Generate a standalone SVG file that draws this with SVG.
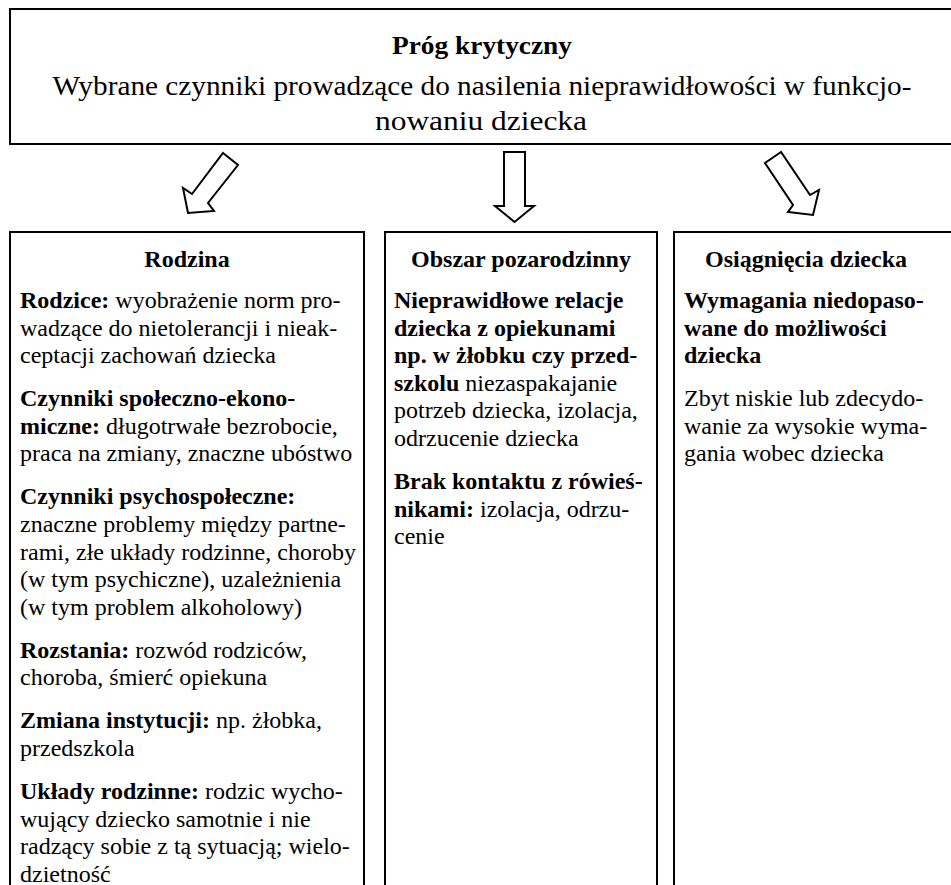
<svg xmlns="http://www.w3.org/2000/svg" width="951" height="885" viewBox="0 0 951 885" font-family="'Liberation Serif', 'Times New Roman', 'DejaVu Serif', serif">
  <style>
    .frame { fill: #ffffff; stroke: #000000; stroke-width: 2; }
    .arrow { fill: #ffffff; stroke: #000000; stroke-width: 2; stroke-linejoin: miter; }
    text { font-family: 'Liberation Serif', 'Times New Roman', 'DejaVu Serif', serif; fill: #000000; }
    .txt { font-size: 24px; }
    .b { font-weight: bold; }
    .c { text-anchor: middle; }
  </style>
  <rect x="0" y="0" width="951" height="885" fill="#ffffff"/>

  <!-- threshold box -->
  <g id="prog-krytyczny">
    <rect class="frame" x="10" y="9" width="960" height="135"/>
    <text class="b c" x="482" y="54" font-size="26" textLength="180" lengthAdjust="spacingAndGlyphs">Próg krytyczny</text>
    <text class="c" x="482" y="95" font-size="27" textLength="859" lengthAdjust="spacingAndGlyphs">Wybrane czynniki prowadzące do nasilenia nieprawidłowości w funkcjo-</text>
    <text class="c" x="481" y="130" font-size="27" textLength="212" lengthAdjust="spacingAndGlyphs">nowaniu dziecka</text>
  </g>

  <!-- block arrows -->
  <g id="connectors">
    <polygon class="arrow" points="223,153 238,165 208,203 214,211 188,213 183,188 192,194"/>
    <polygon class="arrow" points="504,152 525,152 525,206 534,206 514.5,222 495,206 504,206"/>
    <polygon class="arrow" points="781,152 765,163 793,205 788,212 813,215 819,190 810,195"/>
  </g>

  <!-- family column -->
  <g id="rodzina">
    <rect class="frame" x="10" y="232" width="354" height="670"/>
    <text class="txt b c" x="187" y="267">Rodzina</text>
    <text class="txt" x="20" y="308"><tspan class="b">Rodzice:</tspan> wyobrażenie norm pro-</text>
    <text class="txt" x="20" y="335.6">wadzące do nietolerancji i nieak-</text>
    <text class="txt" x="20" y="363.2">ceptacji zachowań dziecka</text>
    <text class="txt b" x="20" y="406.2">Czynniki społeczno-ekono-</text>
    <text class="txt" x="20" y="433.8"><tspan class="b">miczne:</tspan> długotrwałe bezrobocie,</text>
    <text class="txt" x="20" y="461.4">praca na zmiany, znaczne ubóstwo</text>
    <text class="txt b" x="20" y="504.4">Czynniki psychospołeczne:</text>
    <text class="txt" x="20" y="532">znaczne problemy między partne-</text>
    <text class="txt" x="20" y="559.6">rami, złe układy rodzinne, choroby</text>
    <text class="txt" x="20" y="587.2">(w tym psychiczne), uzależnienia</text>
    <text class="txt" x="20" y="614.8">(w tym problem alkoholowy)</text>
    <text class="txt" x="20" y="657.8"><tspan class="b">Rozstania:</tspan> rozwód rodziców,</text>
    <text class="txt" x="20" y="685.4">choroba, śmierć opiekuna</text>
    <text class="txt" x="20" y="728.4"><tspan class="b">Zmiana instytucji:</tspan> np. żłobka,</text>
    <text class="txt" x="20" y="756">przedszkola</text>
    <text class="txt" x="20" y="799"><tspan class="b">Układy rodzinne:</tspan> rodzic wycho-</text>
    <text class="txt" x="20" y="826.6">wujący dziecko samotnie i nie</text>
    <text class="txt" x="20" y="854.2">radzący sobie z tą sytuacją; wielo-</text>
    <text class="txt" x="20" y="881.8">dzietność</text>
  </g>

  <!-- outside-family column -->
  <g id="obszar-pozarodzinny">
    <rect class="frame" x="385" y="232" width="272" height="670"/>
    <text class="txt b c" x="521" y="267">Obszar pozarodzinny</text>
    <text class="txt b" x="394" y="308">Nieprawidłowe relacje</text>
    <text class="txt b" x="394" y="335.6">dziecka z opiekunami</text>
    <text class="txt b" x="394" y="363.2">np. w żłobku czy przed-</text>
    <text class="txt" x="394" y="390.8"><tspan class="b">szkolu</tspan> niezaspakajanie</text>
    <text class="txt" x="394" y="418.4">potrzeb dziecka, izolacja,</text>
    <text class="txt" x="394" y="446">odrzucenie dziecka</text>
    <text class="txt b" x="394" y="489">Brak kontaktu z rówieś-</text>
    <text class="txt" x="394" y="516.6"><tspan class="b">nikami:</tspan> izolacja, odrzu-</text>
    <text class="txt" x="394" y="544.2">cenie</text>
  </g>

  <!-- achievements column -->
  <g id="osiagniecia-dziecka">
    <rect class="frame" x="674" y="232" width="300" height="670"/>
    <text class="txt b c" x="806" y="267">Osiągnięcia dziecka</text>
    <text class="txt b" x="684" y="308">Wymagania niedopaso-</text>
    <text class="txt b" x="684" y="335.6">wane do możliwości</text>
    <text class="txt b" x="684" y="363.2">dziecka</text>
    <text class="txt" x="684" y="406.2">Zbyt niskie lub zdecydo-</text>
    <text class="txt" x="684" y="433.8">wanie za wysokie wyma-</text>
    <text class="txt" x="684" y="461.4">gania wobec dziecka</text>
  </g>
</svg>
